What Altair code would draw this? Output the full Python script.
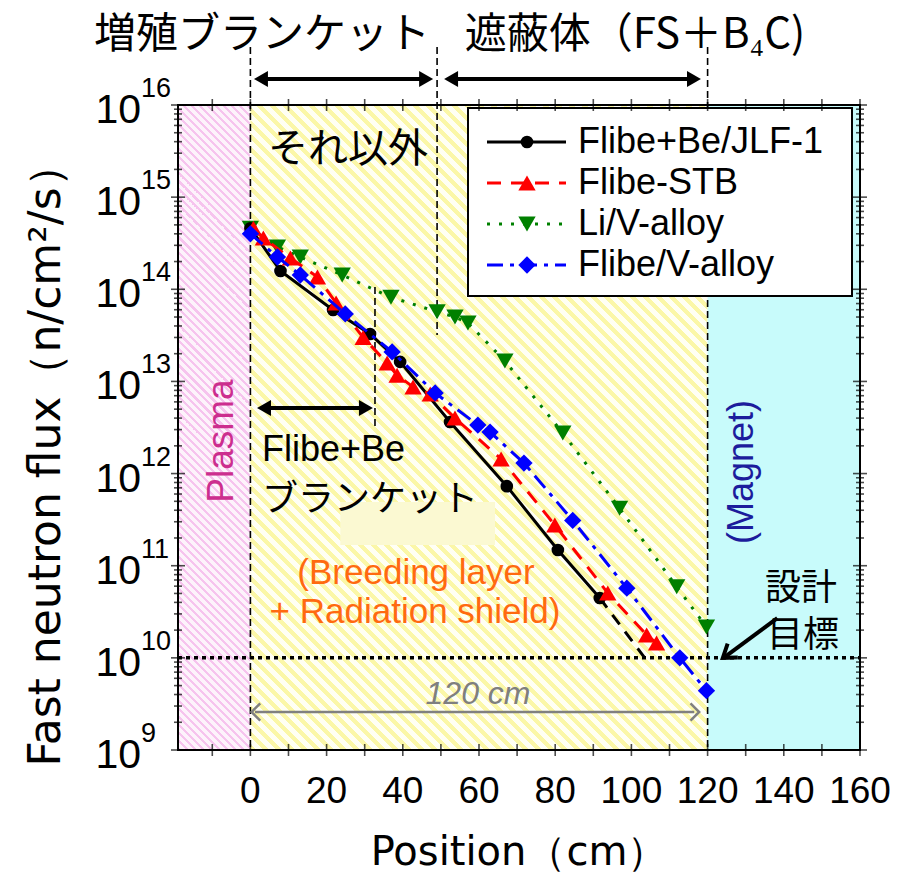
import altair as alt
import pandas as pd

# ---------------------------------------------------------------------------
# Fast neutron flux profiles through the blanket / shield (position in cm)
# ---------------------------------------------------------------------------
jlf_pos = [0, 7.9, 21.7, 31.4, 39.3, 52.4, 67.3, 80.7, 91.7]
jlf_flux = [4.6e14, 1.58e14, 5.96e13, 3.27e13, 1.63e13, 3.63e12, 7.3e11, 1.48e11, 4.46e10]
jlf_ext_pos = [91.7, 103.5]
jlf_ext_flux = [4.46e10, 1.0e10]

stb_pos = [0.8, 3.4, 10.5, 17.6, 22.5, 29.6, 35.9, 38.5, 42.7, 47.2, 53.7, 65.8, 79.9, 93.8, 104.0, 106.6]
stb_flux = [4.6e14, 3.6e14, 2.18e14, 1.36e14, 7.1e13, 3.0e13, 1.58e13, 1.17e13, 8.7e12, 7.3e12,
            4.0e12, 1.44e12, 2.77e11, 5.06e10, 1.77e10, 1.45e10]

li_pos = [0, 7.1, 13.1, 24.1, 36.9, 49.0, 53.7, 57.1, 66.8, 82.0, 96.9, 111.9, 119.7]
li_flux = [4.6e14, 2.88e14, 2.24e14, 1.43e14, 8.2e13, 5.7e13, 5.0e13, 4.3e13, 1.67e13, 2.75e12,
           4.2e11, 5.9e10, 2.16e10]

fv_pos = [0, 7.1, 13.1, 24.9, 37.2, 48.5, 59.7, 62.9, 71.8, 84.6, 98.8, 112.7, 119.7]
fv_flux = [4.0e14, 2.24e14, 1.43e14, 5.4e13, 2.09e13, 7.5e12, 3.36e12, 2.82e12, 1.30e12, 3.1e11,
           5.7e10, 1.0e10, 4.4e9]

series_names = ["Flibe+Be/JLF-1", "Flibe-STB", "Li/V-alloy", "Flibe/V-alloy"]

# axis ticks / labels
x_label_vals = [0, 20, 40, 60, 80, 100, 120, 140, 160]
x_tick_vals = [-10, 0, 10, 20, 30, 40, 50, 60, 70, 80, 90, 100, 110, 120, 130, 140, 150, 160]
decades = [9, 10, 11, 12, 13, 14, 15, 16]

# region boundaries (cm)
plasma_edge = [-19, 0]
blanket_edge = [0, 120]
magnet_edge = [120, 160]
design_limit = 1e10

# ---------------------------------------------------------------------------
W, H = 682, 645
PAD_L, PAD_T = 178, 105
LATIN = "Liberation Sans"
WIDE = "DejaVu Sans"
CJK = "Noto Sans CJK JP"

xs = alt.Scale(domain=[-19, 160], nice=False, zero=False)
ys = alt.Scale(type="log", domain=[1e9, 1e16], nice=False)

# marker styles: colour, shape, size, dash pattern
STYLE = {
    "jlf": ("black", "circle", 160, None),
    "stb": ("#ff0000", "triangle-up", 300, [14, 10]),
    "li": ("#008000", "triangle-down", 300, [3, 9]),
    "fv": ("#0000ff", "diamond", 300, [16, 7, 4, 7]),
}


def X(field):
    return alt.X(f"{field}:Q", scale=xs, axis=None)


def Y(field):
    return alt.Y(f"{field}:Q", scale=ys, axis=None)


def px(v):
    return alt.value(v - PAD_L)


def py(v):
    return alt.value(v - PAD_T)


def stripes(c_line, c_gap, w, h, period, frac):
    """Diagonal hatch (top-left to bottom-right) as a hard-stop linear gradient."""
    n = (w + h) / period
    stops = []
    k = 0
    while k / n < 1:
        a = k / n
        b = min((k + frac) / n, 1.0)
        c = min((k + 1) / n, 1.0)
        stops += [
            alt.GradientStop(offset=a, color=c_line),
            alt.GradientStop(offset=b, color=c_line),
            alt.GradientStop(offset=b, color=c_gap),
            alt.GradientStop(offset=c, color=c_gap),
        ]
        k += 1
    s = (w + h) / (w * w + h * h)
    return alt.LinearGradient(gradient="linear", stops=stops, x1=0, y1=1, x2=s * w, y2=1 - s * h)


def region(edges, fill):
    df = pd.DataFrame({"a": [edges[0]], "b": [edges[1]]})
    return alt.Chart(df).mark_rect(fill=fill, strokeWidth=0).encode(
        x=X("a"), x2="b", y=alt.value(0), y2=alt.value(H)
    )


def text(s, x, y, size, color="black", font=LATIN, angle=0, align="center",
         baseline="middle", style="normal"):
    return alt.Chart(pd.DataFrame({"t": [s]})).mark_text(
        font=font, fontSize=size, color=color, angle=angle, align=align,
        baseline=baseline, fontStyle=style
    ).encode(x=px(x), y=py(y), text="t:N")


def hline(x1, x2, ypix, color, width, dash=None):
    kw = dict(color=color, strokeWidth=width)
    if dash:
        kw["strokeDash"] = dash
    df = pd.DataFrame({"a": [x1], "b": [x2]})
    return alt.Chart(df).mark_rule(**kw).encode(x=X("a"), x2="b", y=py(ypix))


def head(xcm, ypix, shape, size, color, offset, filled=True, width=2):
    df = pd.DataFrame({"a": [xcm]})
    kw = dict(shape=shape, size=size, color=color, opacity=1, filled=filled, xOffset=offset,
              strokeWidth=width)
    return alt.Chart(df).mark_point(**kw).encode(x=X("a"), y=py(ypix))


def double_arrow(x1, x2, ypix, color="black", width=4, size=260):
    return (hline(x1 + 1.5, x2 - 1.5, ypix, color, width)
            + head(x1, ypix, "triangle-left", size, color, 6)
            + head(x2, ypix, "triangle-right", size, color, -6))


def series(pos, flux, key):
    color, shape, size, dash = STYLE[key]
    df = pd.DataFrame({"pos": pos, "flux": flux})
    kw = dict(color=color, strokeWidth=3)
    if dash:
        kw["strokeDash"] = dash
    base = alt.Chart(df).encode(x=X("pos"), y=Y("flux"))
    return base.mark_line(**kw) + base.mark_point(
        shape=shape, size=size, filled=True, color=color, opacity=1)


# --- background regions -----------------------------------------------------
plasma_w = 19 * W / 179
blanket_w = 120 * W / 179
bg = (
    region(plasma_edge, stripes("#f6c4ee", "#fdf3fb", plasma_w, H, 8, 0.4))
    + region(blanket_edge, stripes("#fbf7a8", "#fffff4", blanket_w, H, 13, 0.45))
    + region(magnet_edge, "#c8fbfb")
)

highlight = alt.Chart(pd.DataFrame({"a": [23.6], "b": [64.2], "lo": [1.68e11], "hi": [4.91e11]})).mark_rect(
    fill="#fbf9d2", strokeWidth=0).encode(x=X("a"), x2="b", y=Y("lo"), y2="hi")

# --- boundary / limit lines -------------------------------------------------
limit = alt.Chart(pd.DataFrame({"v": [design_limit]})).mark_rule(
    color="black", strokeWidth=3.5, strokeDash=[4, 4]).encode(
    y=Y("v"), x=alt.value(0), x2=alt.value(W))

vdash = pd.DataFrame({
    "pos": [0, 49.0, 120, 32.7],
    "top": [-58, -58, -58, 182],
    "bot": [H, 230, H, 323],
})
vlines = alt.Chart(vdash).mark_rule(color="black", strokeWidth=1.6, strokeDash=[7, 4]).encode(
    x=X("pos"), y=alt.Y("top:Q", scale=None), y2="bot:Q")

# --- axis frame ticks -------------------------------------------------------
xt = pd.DataFrame({"pos": x_tick_vals})
xticks = (alt.Chart(xt).mark_tick(orient="vertical", size=12, thickness=1.6, color="black")
          .encode(x=X("pos"), y=alt.value(H))
          + alt.Chart(xt).mark_tick(orient="vertical", size=12, thickness=1.6, color="black")
          .encode(x=X("pos"), y=alt.value(0)))

minor = [m * 10.0 ** d for d in decades[:-1] for m in range(2, 10)]
major = [10.0 ** d for d in decades]
ymin_df = pd.DataFrame({"v": minor})
ymaj_df = pd.DataFrame({"v": major})
yticks = alt.layer(*[
    alt.Chart(dfv).mark_tick(orient="horizontal", size=sz, thickness=1.6, color="black")
    .encode(y=Y("v"), x=alt.value(xv))
    for dfv, sz in ((ymin_df, 8), (ymaj_df, 14)) for xv in (0, W)
])

frame = alt.Chart(pd.DataFrame({"a": [0]})).mark_rect(
    fillOpacity=0, stroke="black", strokeWidth=2).encode(
    x=alt.value(0), x2=alt.value(W), y=alt.value(0), y2=alt.value(H))

# --- tick labels ------------------------------------------------------------
xlabels = alt.Chart(pd.DataFrame({"pos": x_label_vals})).mark_text(
    font=LATIN, fontSize=37, baseline="middle", color="black").encode(
    x=X("pos"), y=alt.value(H + 42), text="pos:Q")

ydf = pd.DataFrame({"v": major, "e": [str(d) for d in decades]})
ybase = alt.Chart(ydf).mark_text(font=LATIN, fontSize=41, align="right", baseline="middle",
                                 dy=6, color="black").encode(
    y=Y("v"), x=alt.value(-37), text=alt.value("10"))
yexp = alt.Chart(ydf).mark_text(font=LATIN, fontSize=27, align="left", baseline="middle",
                                dy=-16, color="black").encode(
    y=Y("v"), x=alt.value(-37), text="e:N")

# --- data series ------------------------------------------------------------
lines = (
    series(li_pos, li_flux, "li")
    + series(jlf_pos, jlf_flux, "jlf")
    + alt.Chart(pd.DataFrame({"pos": jlf_ext_pos, "flux": jlf_ext_flux})).mark_line(
        color="black", strokeWidth=3, strokeDash=[12, 9]).encode(x=X("pos"), y=Y("flux"))
    + series(stb_pos, stb_flux, "stb")
    + series(fv_pos, fv_flux, "fv")
)

# --- annotations ------------------------------------------------------------
annotations = alt.layer(
    text("増殖ブランケット", 262, 35, 42, font=CJK),
    text("遮蔽体（FS＋B₄C)", 635, 35, 42, font=CJK),
    double_arrow(1.2, 47.7, 79),
    double_arrow(51.1, 118.0, 79),
    text("それ以外", 348, 150, 40, font=CJK),
    double_arrow(2.0, 31.9, 408),
    text("Flibe+Be", 262, 450, 36, align="left"),
    text("ブランケット", 262, 500, 36, font=CJK, align="left"),
    text("(Breeding layer", 416, 573, 35, color="#ff6a10"),
    text("+ Radiation shield)", 415, 612, 35, color="#ff6a10"),
    text("Plasma", 222, 441, 37, color="#cc2e8e", angle=270),
    text("(Magnet)", 742, 472, 36, color="#1c1c9c", angle=270),
    hline(1.2, 116.5, 712, "#808080", 2.5),
    head(0.4, 712, "M0.5,-1L-0.5,0L0.5,1", 300, "#808080", 4, filled=False, width=2.5),
    head(117.7, 712, "M-0.5,-1L0.5,0L-0.5,1", 300, "#808080", -4, filled=False, width=2.5),
    text("120 cm", 478, 694, 32, color="#7f7f7f", style="italic"),
    text("設計", 801, 589, 36, font=CJK),
    text("目標", 803, 636, 36, font=CJK),
    alt.Chart(pd.DataFrame({"a": [124.2], "b": [138.3], "lo": [1.0e10], "hi": [2.7e10]})).mark_rule(
        color="black", strokeWidth=4).encode(x=X("a"), x2="b", y=Y("lo"), y2="hi"),
    alt.Chart(pd.DataFrame({"a": [124.0], "v": [1.0e10]})).mark_point(
        shape="M1,-0.03L0,0L0.32,-0.95", size=900, filled=False, color="black", opacity=1,
        strokeWidth=4).encode(x=X("a"), y=Y("v")),
)

# --- legend -----------------------------------------------------------------
leg_box = alt.Chart(pd.DataFrame({"a": [0]})).mark_rect(
    fill="white", stroke="black", strokeWidth=2).encode(
    x=px(468), x2=px(852), y=py(108), y2=py(296))

leg_rows = [142, 183, 224, 265]
leg_layers = [leg_box]
for name, yrow, key in zip(series_names, leg_rows, ["jlf", "stb", "li", "fv"]):
    col, shp, sz, dash = STYLE[key]
    kw = dict(color=col, strokeWidth=3)
    if dash:
        kw["strokeDash"] = dash
    one = pd.DataFrame({"a": [0]})
    leg_layers.append(alt.Chart(one).mark_rule(**kw).encode(
        x=px(487), x2=px(566), y=py(yrow)))
    leg_layers.append(alt.Chart(one).mark_point(shape=shp, size=sz, filled=True, color=col,
                                                opacity=1).encode(x=px(527), y=py(yrow)))
    leg_layers.append(text(name, 578, yrow, 36, align="left"))
legend = alt.layer(*leg_layers)

# --- axis titles ------------------------------------------------------------
titles = alt.layer(
    text("Position（cm）", 519, 853, 40, font=WIDE),
    text("Fast neutron flux（n/cm²/s）", 47, 455, 44, font=WIDE, angle=270),
)

chart = alt.layer(
    bg, highlight, limit, vlines, lines, annotations, legend,
    xticks, yticks, frame, xlabels, ybase, yexp, titles,
).properties(
    width=W, height=H,
    padding={"left": PAD_L, "top": PAD_T, "right": 898 - PAD_L - W, "bottom": 879 - PAD_T - H},
    autosize=alt.AutoSizeParams(type="none"),
    background="white",
).configure_view(stroke=None)

chart.save("out.html", embed_options={"renderer": "svg", "actions": False})
